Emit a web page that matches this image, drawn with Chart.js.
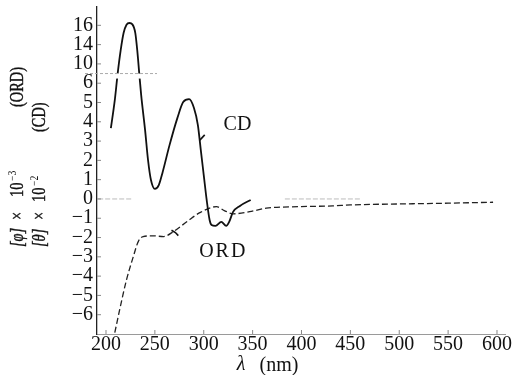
<!DOCTYPE html>
<html>
<head>
<meta charset="utf-8">
<script src="https://cdn.jsdelivr.net/npm/chart.js@4.4.0/dist/chart.umd.min.js"></script>
<style>
  html, body { margin: 0; padding: 0; background: #fff; }
</style>
</head>
<body>
<canvas id="chart" width="513" height="375"></canvas>
<script>
// wavelength axis (nm)
const wavelengthTicks = [200, 250, 300, 350, 400, 450, 500, 550, 600];
// y axis labels, broken above 6
const yTickValues = [16, 14, 10, 6, 5, 4, 3, 2, 1, 0, -1, -2, -3, -4, -5, -6];

// CD  [theta] x 10^-2
const cdWavelength = [205, 209, 212, 215, 218, 221, 224, 227, 230, 232, 234, 236, 240, 243, 246, 250, 254, 258, 265, 273, 279, 285, 290, 294, 297, 300, 303, 306, 308, 312, 318, 323, 326, 330, 337, 348];
const cdValues = [3.67, 5.12, 8.1, 12.8, 15.2, 16.06, 16.24, 16.1, 15.2, 12.8, 8.1, 5.38, 3.57, 2.02, 0.98, 0.52, 0.72, 1.4, 2.79, 4.19, 5.02, 5.17, 4.71, 3.83, 2.53, 1.24, -0.05, -1.09, -1.35, -1.4, -1.19, -1.4, -1.19, -0.67, -0.36, -0.05];

// ORD  [phi] x 10^-3
const ordWavelength = [209, 214, 221, 228, 233, 238, 248, 259, 269, 283, 296, 313, 321, 330, 347, 364, 398, 432, 450, 500, 550, 596];
const ordValues = [-6.93, -5.74, -4.19, -2.98, -2.21, -1.95, -1.91, -1.95, -1.69, -1.17, -0.71, -0.40, -0.60, -0.77, -0.66, -0.48, -0.40, -0.36, -0.31, -0.26, -0.22, -0.17];

// little leader marks next to the curves
const cdPointerWavelength = [296, 301];
const cdPointerValues = [3.05, 3.32];
const ordPointerWavelength = [267, 271, 274];
const ordPointerValues = [-1.62, -1.74, -1.9];

// curve labels: [text, nm, value]
const curveLabels = [['CD', 334.5, 3.85], ['ORD', 320, -2.72]];
// faint bits of the zero line left on the plate
const zeroMarks = [[192, 227], [383, 460]];

// above 6 the scale is squeezed: 6-10 and 10-14 take one step each, 14-16 one step
function toAxis(v) {
  if (v <= 6) return v;
  if (v <= 14) return 6 + (v - 6) / 4;
  return 8 + (v - 14) / 2;
}

function points(xs, ys) {
  return xs.map((x, i) => ({ x: x, y: toAxis(ys[i]) }));
}

const serif = 'Liberation Serif';

const decor = {
  id: 'decor',
  afterDatasetsDraw(chart) {
    const { ctx, chartArea, scales: { x, y } } = chart;
    ctx.save();

    // axis break: gap in the curve and a dotted line
    const yb = y.getPixelForValue(6.5);
    ctx.fillStyle = '#fff';
    ctx.fillRect(chartArea.left + 1, yb, 65, 5);
    ctx.strokeStyle = '#aaa';
    ctx.lineWidth = 1;
    ctx.setLineDash([3, 2]);
    ctx.beginPath();
    ctx.moveTo(chartArea.left - 12, yb);
    ctx.lineTo(chartArea.left + 60, yb);
    ctx.stroke();

    // faint zero line pieces
    ctx.strokeStyle = '#bbb';
    ctx.setLineDash([5, 2]);
    zeroMarks.forEach(m => {
      ctx.beginPath();
      ctx.moveTo(x.getPixelForValue(m[0]), y.getPixelForValue(0));
      ctx.lineTo(x.getPixelForValue(m[1]), y.getPixelForValue(0));
      ctx.stroke();
    });
    ctx.setLineDash([]);

    // inner ticks
    ctx.strokeStyle = '#888';
    yTickValues.forEach(v => {
      const py = y.getPixelForValue(toAxis(v));
      ctx.beginPath();
      ctx.moveTo(chartArea.left, py);
      ctx.lineTo(chartArea.left + 4, py);
      ctx.stroke();
    });
    wavelengthTicks.forEach(v => {
      const px = x.getPixelForValue(v);
      ctx.beginPath();
      ctx.moveTo(px, chartArea.bottom);
      ctx.lineTo(px, chartArea.bottom - 4);
      ctx.stroke();
    });

    // curve labels
    ctx.fillStyle = '#111';
    ctx.font = '20px "' + serif + '"';
    ctx.textAlign = 'center';
    ctx.textBaseline = 'middle';
    curveLabels.forEach(l => {
      ctx.letterSpacing = l[0] === 'ORD' ? '2px' : '0px';
      ctx.fillText(l[0], x.getPixelForValue(l[1]), y.getPixelForValue(l[2]));
    });
    ctx.letterSpacing = '0px';

    // x title
    ctx.font = 'italic 20px "' + serif + '"';
    ctx.fillText('\u03bb', 241, 365);
    ctx.font = '20px "' + serif + '"';
    ctx.fillText('(nm)', 279, 366);

    // y title, two rotated lines
    const lines = [
      { base: 23, parts: [['[\u03c6]', 0], ['\u00d7', 27], ['10', 50], ['\u22123', 66, true], ['(ORD)', 140]] },
      { base: 45, parts: [['[\u03b8]', 0], ['\u00d7', 27], ['10', 45], ['\u22122', 61, true], ['(CD)', 115]] }
    ];
    ctx.textAlign = 'left';
    ctx.textBaseline = 'alphabetic';
    ctx.strokeStyle = '#111';
    ctx.lineWidth = 0.4;
    lines.forEach(line => {
      line.parts.forEach(p => {
        ctx.save();
        ctx.translate(line.base, 247 - p[1]);
        ctx.rotate(-Math.PI / 2);
        ctx.scale(0.8, 1);
        if (p[2]) {
          ctx.font = '12px "' + serif + '"';
          ctx.fillText(p[0], 0, -7);
        } else {
          ctx.font = (p[0][0] === '[' ? 'italic ' : '') + '18px "' + serif + '"';
          ctx.fillText(p[0], 0, 0);
          ctx.strokeText(p[0], 0, 0);
        }
        ctx.restore();
      });
    });

    ctx.restore();
  }
};

new Chart(document.getElementById('chart').getContext('2d'), {
  type: 'line',
  data: {
    datasets: [
      {
        label: 'CD',
        data: points(cdWavelength, cdValues),
        borderColor: '#111',
        borderWidth: 1.8,
        pointRadius: 0,
        cubicInterpolationMode: 'monotone'
      },
      {
        label: 'ORD',
        data: points(ordWavelength, ordValues),
        borderColor: '#222',
        borderWidth: 1.3,
        borderDash: [6, 3],
        pointRadius: 0,
        cubicInterpolationMode: 'monotone'
      },
      {
        data: points(cdPointerWavelength, cdPointerValues),
        borderColor: '#111',
        borderWidth: 1.6,
        pointRadius: 0
      },
      {
        data: points(ordPointerWavelength, ordPointerValues),
        borderColor: '#111',
        borderWidth: 1.6,
        pointRadius: 0
      }
    ]
  },
  options: {
    responsive: false,
    animation: false,
    layout: { padding: { top: 7, right: 8, left: 0, bottom: 0 } },
    plugins: { legend: { display: false }, tooltip: { enabled: false } },
    scales: {
      x: {
        type: 'linear',
        min: 190.8,
        max: 608.2,
        afterBuildTicks: s => { s.ticks = wavelengthTicks.map(v => ({ value: v })); },
        afterFit: s => { s.height = 41; s.paddingLeft = 0; s.paddingRight = 0; },
        grid: { display: true, drawOnChartArea: false, drawTicks: false },
        border: { color: '#9a9a9a', width: 1, dash: [3, 2] },
        ticks: {
          color: '#111',
          padding: -1,
          maxRotation: 0,
          autoSkip: false,
          font: { family: serif, size: 20 }
        }
      },
      y: {
        type: 'linear',
        min: -7,
        max: 9.95,
        afterBuildTicks: s => { s.ticks = yTickValues.map(v => ({ value: toAxis(v) })); },
        afterFit: s => { s.width = 97; s.paddingTop = 0; s.paddingBottom = 0; },
        grid: { display: true, drawOnChartArea: false, drawTicks: false },
        border: { color: '#222', width: 1.3 },
        ticks: {
          color: '#111',
          padding: 4,
          autoSkip: false,
          font: { family: serif, size: 20 },
          callback: v => {
            const real = yTickValues.find(t => Math.abs(toAxis(t) - v) < 1e-6);
            return real < 0 ? '\u2212' + (-real) : String(real);
          }
        }
      }
    }
  },
  plugins: [decor]
});
</script>
</body>
</html>
